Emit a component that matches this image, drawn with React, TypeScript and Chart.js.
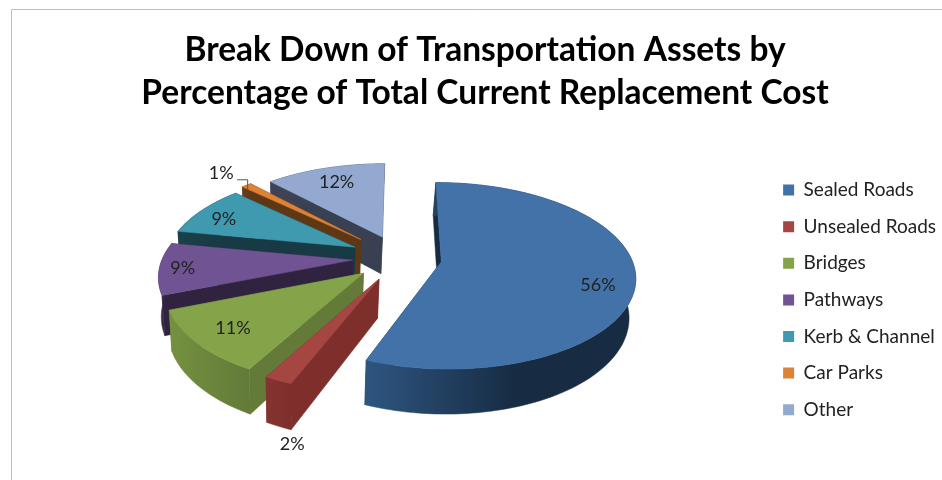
import React, { useEffect, useRef } from "react";
import { Chart, registerables } from "chart.js";

Chart.register(...registerables);

const titleLines = ["Break Down of Transportation Assets by", "Percentage of Total Current Replacement Cost"];
const categories = ["Sealed Roads", "Unsealed Roads", "Bridges", "Pathways", "Kerb & Channel", "Car Parks", "Other"];
const values = [56, 2, 11, 9, 9, 1, 12];
const topColors = ["#4272A8", "#A54643", "#85A349", "#6F5393", "#3F99AF", "#DE8236", "#93A9D0"];
const wallLight = ["#2E5580", "#843330", "#74913F", "#3A2A4E", "#1A4049", "#6A3F18", "#3E4356"];
const wallDark = ["#172C43", "#7E2F2C", "#637A39", "#2F2340", "#173A44", "#5E3815", "#394052"];
const explode = [0.22, 0.25, 0.25, 0.25, 0.27, 0.3, 0.26];
const drawOrder = [6, 5, 4, 3, 0, 2, 1];
const labelDistance = [1.03, 1.4, 1.05, 1.13, 1.12, 1.55, 1.0];
const labelNudge = [[0, 9], [32, 45], [0, 0], [0, 0], [0, 4], [0, 0], [-2, -2]];

const view = { cx: 400, cy: 258, rx: 190, ry: 90, persp: 0.15, depth: 38, vanishX: 300, shrink: 0.98 };

function project(u: number, v: number) {
  const s = 1 / (1 - view.persp * v);
  return { x: view.cx + view.rx * u * s, y: view.cy + view.ry * v * s, s };
}
function lower(p: { x: number; y: number; s: number }) {
  return { x: view.vanishX + (p.x - view.vanishX) * view.shrink, y: p.y + view.depth * p.s };
}

const pie3d = {
  id: "pie3d",
  beforeInit(chart: any) {
    chart.ctx.letterSpacing = "0.27px";
  },
  beforeDraw(chart: any) {
    const { ctx, width, height } = chart;
    ctx.save();
    ctx.fillStyle = "#fff";
    ctx.fillRect(0, 0, width, height);
    ctx.strokeStyle = "#BDBDBD";
    ctx.lineWidth = 1;
    ctx.beginPath();
    ctx.moveTo(11.5, height);
    ctx.lineTo(11.5, 9.5);
    ctx.lineTo(width, 9.5);
    ctx.stroke();
    ctx.restore();
  },
  beforeDatasetsDraw(chart: any) {
    const { ctx } = chart;
    const arcs = chart.getDatasetMeta(0).data;
    const fillPoly = (pts: { x: number; y: number }[], fill: any) => {
      ctx.beginPath();
      pts.forEach((p, i) => (i ? ctx.lineTo(p.x, p.y) : ctx.moveTo(p.x, p.y)));
      ctx.closePath();
      ctx.fillStyle = fill;
      ctx.fill();
      ctx.strokeStyle = fill;
      ctx.lineWidth = 0.5;
      ctx.stroke();
    };
    ctx.save();
    drawOrder.forEach((i) => {
      const a = arcs[i];
      const mid = (a.startAngle + a.endAngle) / 2;
      const ou = explode[i] * Math.cos(mid);
      const ov = explode[i] * Math.sin(mid);
      const steps = Math.max(4, Math.round((a.endAngle - a.startAngle) * 40));
      const rim = [];
      for (let k = 0; k <= steps; k++) {
        const t = a.startAngle + ((a.endAngle - a.startAngle) * k) / steps;
        rim.push(project(ou + Math.cos(t), ov + Math.sin(t)));
      }
      const apex = project(ou, ov);
      const first = rim[0];
      const last = rim[rim.length - 1];
      fillPoly([apex, first, lower(first), lower(apex)], wallDark[i]);
      fillPoly([apex, last, lower(last), lower(apex)], wallDark[i]);
      const xs = rim.map((p) => p.x);
      const grad = ctx.createLinearGradient(Math.min(...xs), 0, Math.max(...xs), 0);
      grad.addColorStop(0, wallLight[i]);
      grad.addColorStop(i === 0 ? 0.55 : 1, wallDark[i]);
      grad.addColorStop(1, wallDark[i]);
      fillPoly([...rim, ...rim.slice().reverse().map(lower)], grad);
      fillPoly([apex, ...rim], topColors[i]);
    });
    ctx.font = "18px Lato";
    ctx.fillStyle = "#222";
    ctx.textAlign = "center";
    ctx.textBaseline = "middle";
    values.forEach((val, i) => {
      const a = arcs[i];
      const mid = (a.startAngle + a.endAngle) / 2;
      const p = project(labelDistance[i] * Math.cos(mid), labelDistance[i] * Math.sin(mid));
      const lx = p.x + labelNudge[i][0];
      const ly = p.y + labelNudge[i][1];
      ctx.fillText(val + "%", lx, ly);
      if (i === 5) {
        ctx.strokeStyle = "#555";
        ctx.lineWidth = 1;
        ctx.beginPath();
        ctx.moveTo(lx + 16, ly + 6.5);
        ctx.lineTo(lx + 26.5, ly + 6.5);
        ctx.lineTo(lx + 26.5, ly + 16);
        ctx.stroke();
      }
    });
    ctx.restore();
    return false;
  },
};

export default function App() {
  const ref = useRef<HTMLCanvasElement>(null);
  useEffect(() => {
    document.body.style.margin = "0";
    const chart = new Chart(ref.current as any, {
      type: "pie",
      data: {
        labels: categories,
        datasets: [{ data: values, backgroundColor: topColors, borderWidth: 0 }],
      },
      options: {
        animation: false,
        responsive: false,
        layout: { padding: { left: 24, right: -4, top: 29, bottom: 40 } },
        plugins: {
          title: {
            display: true,
            text: titleLines,
            color: "#000",
            font: { family: "Lato", size: 33.5, weight: "bold", lineHeight: 1.28 },
            padding: { top: 0, bottom: 45 },
          },
          legend: {
            position: "right",
            fullSize: false,
            labels: {
              font: { family: "Lato", size: 19 },
              color: "#222",
              boxWidth: 11,
              boxHeight: 11,
              padding: 17.6,
            },
          },
          tooltip: { enabled: false },
        },
      } as any,
      plugins: [pie3d] as any,
    });
    return () => chart.destroy();
  }, []);
  return <canvas ref={ref} width={942} height={480} style={{ display: "block" }} />;
}
